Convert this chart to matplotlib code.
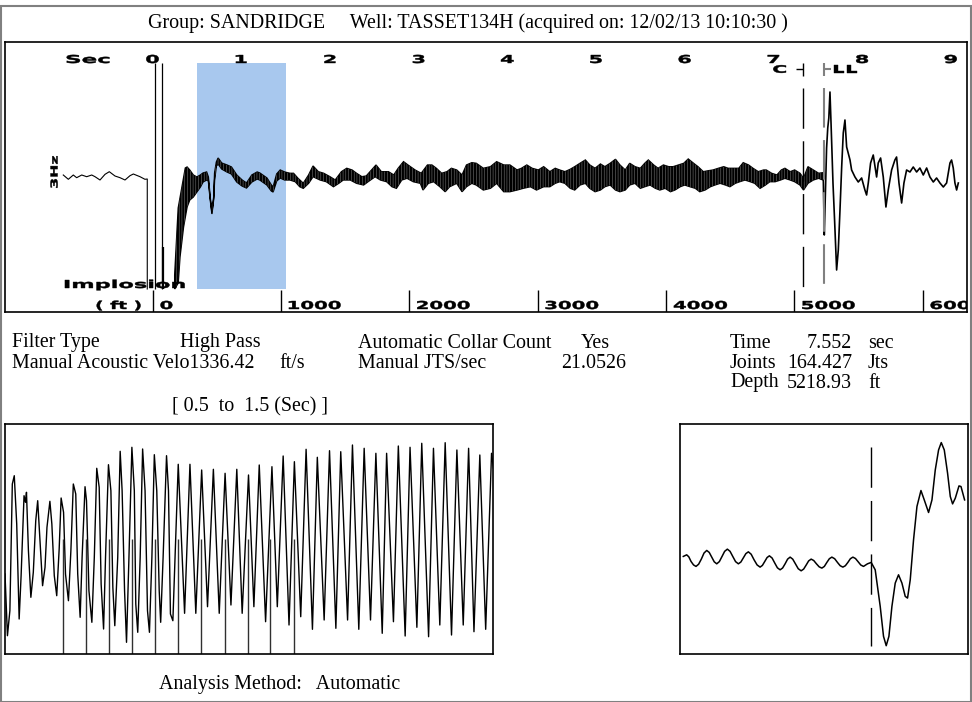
import numpy as np
import matplotlib
matplotlib.use("Agg")
import matplotlib.pyplot as plt
import matplotlib.transforms as mtransforms
from matplotlib.textpath import TextPath
from matplotlib.patches import PathPatch, Rectangle
from matplotlib.font_manager import FontProperties

W, H = 972, 702
SERIF = "Liberation Serif"
BOLD = FontProperties(family="DejaVu Sans", weight="bold")
plt.rcParams["hatch.linewidth"] = 0.3

# ---- header / info values ----
GROUP = "SANDRIDGE"
WELL = "TASSET134H"
ACQUIRED = "12/02/13 10:10:30"
FILTER_TYPE = "High Pass"
VELOCITY = 1336.42
COLLAR_COUNT = "Yes"
JTS_PER_SEC = 21.0526
TIME = 7.552
JOINTS = 164.427
DEPTH = 5218.93
WINDOW = (0.5, 1.5)
METHOD = "Automatic"

# ---- top trace (time in s, amplitude in arbitrary units) ----
sec_ticks = [0, 1, 2, 3, 4, 5, 6, 7, 8, 9]
ft_ticks = [0, 1000, 2000, 3000, 4000, 5000, 6000]
clip_top, clip_bot = 115, -111
collar_time = 7.334
ll_time = 7.567

pre_t = [-1.006, -0.949, -0.893, -0.855, -0.798, -0.742, -0.685, -0.648, -0.592, -0.535,
         -0.487, -0.423, -0.366, -0.310, -0.254, -0.216, -0.141, -0.085, -0.059, -0.059]
pre_a = [3, -1.3, 3, 0.3, 3, 1.3, 3, 1.3, -2, 3.7, 6.3, 2, 0.3, -2, 2.3, 4, 1.3, -1.3, -1, -111]

implosion_lines_t = [0.032, 0.104]
spike_t, spike_top = 0.122, -69

# envelope of the dense joint echoes
up_t = [0.25, 0.29, 0.33, 0.37, 0.39, 0.42, 0.46, 0.50, 0.54, 0.57, 0.61, 0.63, 0.65, 0.67, 0.69,
        0.70, 0.72, 0.74, 0.78, 0.84, 0.89, 0.95, 1.01, 1.06, 1.12, 1.18, 1.21, 1.29, 1.34, 1.36,
        1.40, 1.44, 1.49,
        1.55, 1.59, 1.64, 1.70, 1.76, 1.81, 1.87, 1.93, 2.00, 2.06, 2.13, 2.19, 2.25, 2.30, 2.36,
        2.41, 2.47, 2.52, 2.58, 2.66, 2.72, 2.77, 2.83, 2.88, 2.96, 3.03, 3.10, 3.15, 3.20, 3.26,
        3.32, 3.37, 3.43, 3.49, 3.54, 3.60, 3.65, 3.73, 3.81, 3.88, 3.96, 4.03, 4.11, 4.16, 4.22,
        4.28, 4.35, 4.41, 4.48,
        4.54, 4.59, 4.65, 4.71, 4.76, 4.82, 4.88, 4.93, 4.99, 5.05, 5.10, 5.16, 5.22, 5.27, 5.33,
        5.38, 5.44, 5.50, 5.55, 5.59, 5.65, 5.70, 5.76, 5.82, 5.87, 5.93, 5.99, 6.04, 6.10, 6.15,
        6.21, 6.27, 6.32, 6.38, 6.44, 6.49, 6.55, 6.61, 6.66, 6.72, 6.77, 6.83, 6.89, 6.92, 6.98,
        7.04, 7.09, 7.13, 7.19, 7.24, 7.30,
        7.34, 7.39, 7.45, 7.51, 7.56]
up_a = [-97, -30, -10, 10, 11, 8, 3, 1, 3, 5, 6, 1, -19, -34, -19,
        5, 16, 20, 15, 13, 11, 3, -2, -5, 3, 6, 5, 0, -7, -9,
        4, 8, 6,
        4.7, 4.7, -0.3, -5.3, 3, 12, 6.3, 4.7, 1.3, -2, 6.3, 9.7, 8, 4.7, 1.3,
        2, 8, 13, 6.3, 6.3, 3, 9.7, 16.3, 13, 8, 4.7, 13, 13, 9.7, 4.7,
        6.3, 9.7, 8, 3, 13, 15.3, 14.7, 9.7, 11.3, 16.3, 13, 13, 8, 9.7, 13,
        9.7, 8, 11.3, 6.3,
        9.7, 8, 6.3, 8.7, 11.3, 14.7, 18, 13, 9.7, 14, 11.3, 14.7, 18.7, 13, 8,
        14.7, 11.3, 9.7, 14.7, 18, 13, 9.7, 13, 11.3, 11.3, 13, 14.7, 19, 14.7, 11.3,
        6.3, 7.3, 8, 9.7, 11.3, 9.7, 9.7, 9.7, 15.3, 13, 9.7, 6.3, 8, 8, 4.7,
        3, 8, 9.7, 6.3, 8, 4.7,
        -0.3, 11.3, 8, 4.7, 5.3]

lo_t = [0.25, 0.29, 0.31, 0.35, 0.39, 0.42, 0.46, 0.50, 0.54, 0.57, 0.61, 0.63, 0.65, 0.67, 0.69,
        0.70, 0.72, 0.74, 0.78, 0.84, 0.89, 0.95, 1.01, 1.06, 1.12, 1.18, 1.21, 1.29, 1.34, 1.36,
        1.40, 1.44, 1.49,
        1.55, 1.61, 1.66, 1.70, 1.76, 1.81, 1.89, 1.96, 2.04, 2.10, 2.15, 2.23, 2.30, 2.38, 2.43,
        2.51, 2.57, 2.64, 2.70, 2.75, 2.81, 2.87, 2.94, 3.02, 3.05, 3.11, 3.17, 3.24, 3.30, 3.35,
        3.43, 3.49, 3.54, 3.60, 3.65, 3.73, 3.81, 3.88, 3.96, 4.03, 4.11, 4.18, 4.26, 4.33, 4.41,
        4.48,
        4.54, 4.59, 4.65, 4.71, 4.76, 4.82, 4.88, 4.93, 4.99, 5.05, 5.10, 5.16, 5.22, 5.27, 5.33,
        5.38, 5.44, 5.50, 5.55, 5.61, 5.67, 5.72, 5.78, 5.84, 5.89, 5.95, 6.00, 6.06, 6.12, 6.17,
        6.23, 6.29, 6.34, 6.40, 6.46, 6.51, 6.57, 6.62, 6.68, 6.74, 6.79, 6.85, 6.91, 6.96, 7.02,
        7.08, 7.13, 7.19, 7.24, 7.30,
        7.34, 7.39, 7.45, 7.51, 7.56]
lo_a = [-111, -105, -79, -49, -29, -22, -19, -14, -9, -4, -2, -3, -21, -36, -21,
        -2, 12, 14, 9, 6, 4, -4, -8, -10, -4, -1, -2, -7, -13, -14,
        -3, 0, -2,
        -2, -3.7, -8.7, -10.3, -5.3, 1.3, -2, -3.7, -8.7, -5.3, -2, -2, -5.3, -7, -3.7,
        1.3, -2, -3.7, -8.7, -10.3, -2, -0.3, -3.7, -5.3, -12, -5.3, -3.7, -8.7, -13.7, -8.7,
        -5.3, -13.7, -8.7, -5.3, -7, -12, -10.3, -5.3, -13.7, -13.7, -12, -10.3, -8.7, -12, -8.7,
        -8.7,
        -5.3, -3.7, -5.3, -10.3, -12, -7, -5.3, -10.3, -13.7, -12, -8.7, -7, -12, -13.7, -12,
        -7, -5.3, -10.3, -8.7, -7, -10.3, -12, -10.3, -13.7, -12, -8.7, -7, -8.7, -10.3, -13.7,
        -12, -8.7, -7, -5.3, -7, -8.7, -5.3, -3.7, -2, -3.7, -5.3, -10.3, -7, -3.7, -3.7,
        -2, -0.3, -2, -3.7, -7,
        -12, -5.3, -2, -0.3, -2]

# liquid level reflection and after
post_t = [7.563, 7.574, 7.585, 7.600, 7.613, 7.625, 7.638, 7.650, 7.660, 7.672, 7.690, 7.713,
          7.732, 7.751, 7.770, 7.788, 7.807, 7.826, 7.864, 7.882, 7.920, 7.957, 7.995, 8.032,
          8.051, 8.070, 8.096, 8.126, 8.164, 8.182, 8.209, 8.239, 8.269, 8.295, 8.333, 8.370,
          8.389, 8.416, 8.446, 8.472, 8.502, 8.540, 8.577, 8.615, 8.652, 8.690, 8.728, 8.765,
          8.803, 8.840, 8.878, 8.916, 8.953, 8.991, 9.009, 9.028, 9.047, 9.066, 9.085]
post_a = [-2, -57, -20, 30, 50, 60, 86, 55, 28, -5, -42, -92,
          -72, -32, 11, 45, 58, 31, 18, 8, 1, -4, 0, -12,
          -17, -5, 15, 23, 1, 15, 20, 1, -29, -12, 8, 18,
          21, -5, -25, -5, 8, 6, 11, 6, 10, 3, 10, 1,
          -4, 0, -5, -9, -5, 15, 18, 10, -5, -12, -5]

# ---- bottom left: raw trace over the window ----
win_t = [0.500, 0.505, 0.510, 0.515, 0.519, 0.524, 0.529, 0.533, 0.539, 0.542, 0.544, 0.548,
         0.553, 0.558, 0.563, 0.567, 0.572, 0.577, 0.582, 0.586, 0.592, 0.596, 0.601, 0.606,
         0.611, 0.615, 0.620, 0.624, 0.630, 0.635, 0.640, 0.645, 0.649, 0.654, 0.658, 0.664,
         0.667, 0.672, 0.678, 0.683, 0.688, 0.693, 0.697, 0.702, 0.706, 0.712, 0.717, 0.721,
         0.725, 0.731, 0.736, 0.740, 0.745, 0.749, 0.754, 0.760, 0.765, 0.768, 0.772, 0.777,
         0.782, 0.787, 0.792, 0.796, 0.801, 0.806, 0.811, 0.816, 0.819, 0.824, 0.831, 0.835,
         0.839, 0.844,
         0.855, 0.868, 0.879, 0.891, 0.903, 0.915, 0.927, 0.939, 0.951, 0.963, 0.975, 0.986,
         0.999, 1.010, 1.021, 1.034, 1.047, 1.058, 1.070, 1.082, 1.093, 1.106, 1.117, 1.130,
         1.140, 1.154, 1.165, 1.178, 1.188, 1.202, 1.212, 1.225, 1.236, 1.249, 1.260, 1.273,
         1.282, 1.296, 1.306, 1.320, 1.330, 1.344, 1.354, 1.368, 1.378, 1.391, 1.402, 1.415,
         1.426, 1.439, 1.450, 1.461, 1.473, 1.485, 1.497, 1.501]
win_a = [80, 18.3, 43.3, 170, 178.3, 130, 35, 78.3, 158.3, 151.7, 161.7, 103.3,
         56.7, 81.7, 133.3, 153.3, 111.7, 68.3, 86.7, 126.7, 152.7, 130, 78.3, 58.3,
         105, 156, 141.7, 80, 53.3, 103.3, 170, 160, 80, 36.7, 96.7, 167.3,
         153.3, 63.3, 31.7, 96.7, 185.7, 166.7, 70, 25, 96.7, 189.3, 163.3, 66.7,
         28.3, 96.7, 202.7, 163.3, 63.3, 11.7, 96.7, 206.7, 163.3, 50, 21.7, 96.7,
         205, 163.3, 43.3, 21.7, 96.7, 199.3, 163.3, 63.3, 31.7, 96.7, 198.3, 163.3,
         40, 33.3,
         189.7, 40.7, 189.7, 40.7, 184, 47.3, 184.7, 40.7, 180.7, 49, 184.7, 40.7,
         179, 47.3, 189, 32.3, 187.3, 47.3, 198, 29, 192.3, 37.3, 204.7, 24.7,
         196.7, 34, 203.3, 25.7, 202.3, 34, 209, 24.7, 205.7, 34, 200.7, 20.7,
         200.7, 32.3, 208, 18, 206.7, 26.7, 210.7, 17.3, 205.7, 29, 211.3, 19,
         204, 29, 205.7, 22.3, 199, 24.7, 200.7, 185.7]
joint_marks_t = [0.618, 0.665, 0.713, 0.760, 0.807, 0.855, 0.902, 0.950, 0.997, 1.044, 1.092]
joint_mark_top = 115

# ---- bottom right: zoom around the liquid level pick (samples from pick) ----
zoom_x = [-186.7, -183.3, -181.2, -179, -176.5, -174, -171.4, -168.7, -166, -163.3, -160.8,
          -158.3, -155.8, -153.3, -150.7, -148, -145.4, -142.7, -140, -137.3, -134.5, -131.7,
          -129.2, -126.7, -124.2, -121.7, -118.9, -116, -113, -110, -107.7, -105.3, -103,
          -100.7, -98, -95.3, -92.7, -90, -87.5, -85, -82.5, -80, -77.4, -74.7, -71.9, -69,
          -66.5, -64, -61.5, -59, -56.4, -53.7, -51, -48.3, -45.8, -43.3, -40.8, -38.3, -35.5,
          -32.7, -30, -27.3, -24.8, -22.3, -19.8, -17.3, -14.7, -12, -9.4, -6.7, -2.7,
          1, 5, 10, 13.3, 16, 18.7, 21.7, 25, 28.3, 31.7, 35, 37.3, 40, 43.3, 46.7, 50.7,
          54, 58.3, 61.7, 65, 68.3, 71, 74, 77.3, 80, 82.3, 85, 88.7, 90.7, 94.3]
zoom_y = [6.7, 8.3, 6.3, 1.7, -1.8, -3.3, -1.1, 4, 10.1, 12.7, 10.7,
          6, 1.3, -0.7, 1.5, 6.7, 11.8, 14, 11.8, 6.7, 1.5, -0.7,
          1.1, 5.3, 9.5, 11.3, 8.9, 3.3, -1.8, -4, -2.3, 1.7, 5.6,
          7.3, 5.1, 0, -4.7, -6.7, -4.9, -0.7, 4, 6, 4, -0.7, -5.6, -7.7,
          -6, -2, 2.2, 4, 2.6, -0.7, -3.7, -5, -3.3, 0.7, 4.4, 6, 4.4,
          0.7, -2.6, -4, -2.6, 0.7, 4.4, 6, 4.6, 1.3, -1.9, -3.3, -0.7,
          0.7, -6.7, -43.3, -73.3, -82.7, -73.3, -43.3, -20, -11.7, -20, -33.3, -35, -16.7, 23.3, 56.7, 72.7,
          63.3, 50.7, 63.3, 93.3, 113.3, 120.7, 113.3, 90, 66.7, 59.3, 65, 77.3, 76.7, 63.3]
zoom_pick = 1
zoom_pick_span = (116.7, -83.3)


def px_rect(x0, y0, x1, y1):
    return [x0 / W, 1 - y1 / H, (x1 - x0) / W, (y1 - y0) / H]


def ftext(fig, x, y, s, **kw):
    kw.setdefault("family", SERIF)
    kw.setdefault("fontsize", 14.4)
    kw.setdefault("va", "center")
    fig.text(x / W, 1 - y / H, s, **kw)


def wide_text(ax, x, y, s, ha="left", dx=0, height=8, stretch=1.8, rot=0):
    # heavy, horizontally stretched labels like the logger's plot font
    path = TextPath((0, 0), s, size=1, prop=BOLD)
    box = path.get_extents()
    sy = height / 0.73
    sx = sy * stretch
    if ha == "left":
        ox = -box.x0 * sx
    elif ha == "right":
        ox = -box.x1 * sx
    else:
        ox = -(box.x0 + box.x1) / 2 * sx
    tr = mtransforms.Affine2D().scale(sx, sy).translate(ox, -0.365 * sy)
    if rot:
        tr = tr.rotate_deg(rot)
    tr = tr.translate(dx, 0) + mtransforms.ScaledTranslation(x, y, ax.transData)
    ax.add_patch(PathPatch(path, transform=tr, fc="black", ec="black", lw=0.3, zorder=5))


def plot_top(fig):
    ax = fig.add_axes(px_rect(5, 42, 967, 312))
    ax.set_xlim(-1.663, 9.183)
    ax.set_ylim(-134, 136)
    ax.set_xticks([])
    ax.set_yticks([])
    for sp in ax.spines.values():
        sp.set_linewidth(1.2)

    ax.fill_between(WINDOW, clip_bot, clip_top, color="#a8c8ee", lw=0, zorder=1)

    ax.plot(pre_t, pre_a, color="black", lw=0.8, zorder=3)
    ax.vlines(implosion_lines_t, clip_bot, clip_top, color="black", lw=0.9, zorder=3)
    ax.vlines(spike_t, clip_bot, spike_top, color="black", lw=1.6, zorder=3)

    # dense echoes: dark band with fine light slits
    band_t = np.concatenate([up_t, lo_t[::-1]])
    band_a = np.concatenate([up_a, lo_a[::-1]])
    ax.fill(band_t, band_a, facecolor="black", edgecolor="black", lw=1.0, zorder=3)
    ax.fill(band_t, band_a, facecolor="none", edgecolor="#9a9a9a", hatch="||||||",
            lw=0, zorder=3)
    ax.plot(post_t, post_a, color="black", lw=1.2, zorder=3)

    # collar / liquid level picks
    ax.plot([collar_time, collar_time], [90, clip_bot], color="black", lw=1,
            dashes=(29, 9), zorder=4)
    ax.plot([ll_time, ll_time], [90, clip_bot], color="#808080", lw=1.5,
            dashes=(19, 6), zorder=4)
    ax.vlines([collar_time, ll_time], 102, clip_top, color=["black", "#808080"], lw=[1, 1.5])
    ax.hlines(109, collar_time - 0.08, collar_time, color="black", lw=1)
    ax.hlines(109, ll_time, ll_time + 0.08, color="#808080", lw=1.5)
    wide_text(ax, collar_time, 109, "C", ha="right", dx=-17, height=7.5, stretch=2.0)
    wide_text(ax, ll_time, 109, "LL", ha="left", dx=10, height=7.5, stretch=2.0)

    # time scale along the top
    wide_text(ax, -0.727, 119, "Sec", ha="center", height=8, stretch=2.1)
    for s in sec_ticks:
        wide_text(ax, s, 119, str(s), ha="center", height=8, stretch=1.9)

    # depth scale along the bottom
    ft_per_sec = DEPTH / TIME
    ft_t = [f / ft_per_sec for f in ft_ticks]
    ax.vlines(ft_t, -134, -112, color="black", lw=1)
    for t, f in zip(ft_t, ft_ticks):
        wide_text(ax, t, -127, str(f), ha="left", dx=8, height=8, stretch=1.8)
    wide_text(ax, 0, -127, "( ft )", ha="right", dx=-12, height=8, stretch=1.7)

    wide_text(ax, -0.987, -106, "Implosion", ha="left", height=8, stretch=2.05)
    wide_text(ax, -1.11, 6, "3Hz", ha="center", height=7, stretch=1.65, rot=90)


def plot_window(fig):
    ax = fig.add_axes(px_rect(5, 424, 493, 654))
    ax.set_xlim(WINDOW)
    ax.set_ylim(0, 230)
    ax.set_xticks([])
    ax.set_yticks([])
    for sp in ax.spines.values():
        sp.set_linewidth(1.2)
    ax.plot(win_t, win_a, color="black", lw=1.0, solid_joinstyle="round")
    ax.vlines(joint_marks_t, 0, joint_mark_top, color="#303030", lw=1.0)


def plot_zoom(fig):
    ax = fig.add_axes(px_rect(680, 424, 968, 654))
    ax.set_xlim(-190, 97.7)
    ax.set_ylim(-91, 139.3)
    ax.set_xticks([])
    ax.set_yticks([])
    for sp in ax.spines.values():
        sp.set_linewidth(1.2)
    ax.plot(zoom_x, zoom_y, color="black", lw=1.1, solid_joinstyle="round")
    ax.plot([zoom_pick, zoom_pick], zoom_pick_span, color="black", lw=1, dashes=(29, 9.5))


def main():
    fig = plt.figure(figsize=(W / 100, H / 100), dpi=100)
    fig.patches.append(Rectangle((0.5 / W, 0.5 / H), 1 - 1.5 / W, 1 - 6.5 / H,
                                 transform=fig.transFigure, fill=False,
                                 edgecolor="#808080", lw=1.5))

    ftext(fig, 148, 23, "Group: %s     Well: %s (acquired on: %s )" % (GROUP, WELL, ACQUIRED))

    plot_top(fig)

    ftext(fig, 12, 343, "Filter Type")
    ftext(fig, 180, 343, FILTER_TYPE)
    ftext(fig, 12, 363, "Manual Acoustic Velo%.2f" % VELOCITY)
    ftext(fig, 279, 363, "ft/s")
    ftext(fig, 358, 343, "Automatic Collar Count")
    ftext(fig, 581, 343, COLLAR_COUNT)
    ftext(fig, 358, 363, "Manual JTS/sec")
    ftext(fig, 626, 363, "%.4f" % JTS_PER_SEC, ha="right")
    ftext(fig, 730, 343, "Time")
    ftext(fig, 852, 343, "%.3f" % TIME, ha="right")
    ftext(fig, 868, 343, "sec")
    ftext(fig, 730, 363, "Joints")
    ftext(fig, 852, 363, "%.3f" % JOINTS, ha="right")
    ftext(fig, 868, 363, "Jts")
    ftext(fig, 730, 383, "Depth")
    ftext(fig, 852, 383, "%.2f" % DEPTH, ha="right")
    ftext(fig, 868, 383, "ft")
    ftext(fig, 250, 407, "[ %.1f  to  %.1f (Sec) ]" % WINDOW, ha="center")

    plot_window(fig)
    plot_zoom(fig)

    ftext(fig, 159, 684, "Analysis Method:   %s" % METHOD)

    fig.savefig("out.png", dpi=100)
    plt.close(fig)
    return 0


if __name__ == "__main__":
    main()
